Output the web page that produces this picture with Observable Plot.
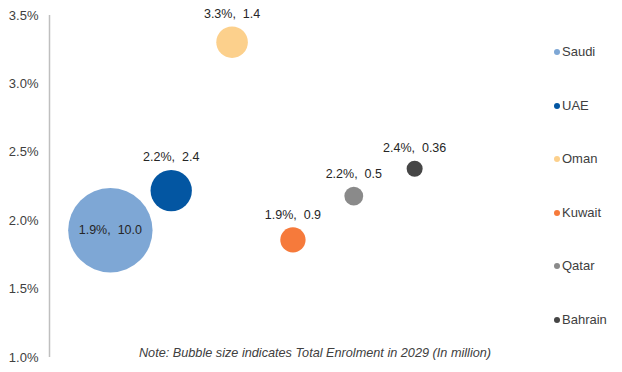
<!DOCTYPE html>
<html>
<head>
<meta charset="utf-8">
<script src="https://cdn.jsdelivr.net/npm/d3@7"></script>
<script src="https://cdn.jsdelivr.net/npm/@observablehq/plot@0.6"></script>
<style>
  html, body { margin: 0; padding: 0; background: #fff; }
  #chart { position: relative; width: 622px; height: 372px; font-family: "Liberation Sans", Arial, sans-serif; }
  #chart svg { position: absolute; left: 0; top: 0; }
  .legend { position: absolute; left: 554px; top: 0; }
  .legend .row { position: absolute; left: 0; height: 14px; line-height: 14px; white-space: nowrap; font-size: 13px; color: #404040; }
  .legend .sw { display: inline-block; width: 6px; height: 6px; border-radius: 50%; margin-right: 2px; vertical-align: 1px; }
  .note { position: absolute; top: 346px; left: 0; width: 630px; text-align: center; font-size: 12.7px; font-style: italic; color: #404040; white-space: nowrap; }
</style>
</head>
<body>
<div id="chart"></div>
<script>
// ---- data ----
const countries = ["Saudi", "UAE", "Oman", "Kuwait", "Qatar", "Bahrain"];
const growth = [1.93, 2.22, 3.305, 1.86, 2.18, 2.38];          // CAGR, %
const enrolment = [10.0, 2.4, 1.4, 0.9, 0.5, 0.36];            // Total enrolment 2029, million
const enrolmentLabels = ["10.0", "2.4", "1.4", "0.9", "0.5", "0.36"];
const colors = ["#7ea7d5", "#0356a2", "#fcd08c", "#f67a3b", "#8a8a8a", "#464646"];
const yTicks = [1.0, 1.5, 2.0, 2.5, 3.0, 3.5];
const noteText = "Note: Bubble size indicates Total Enrolment in 2029 (In million)";

const data = countries.map((c, i) => ({
  country: c, idx: i + 1, growth: growth[i], size: enrolment[i],
  label: `${growth[i].toFixed(1)}%,\u00a0 ${enrolmentLabels[i]}`
}));

const rMax = 42.2;
const rScale = d3.scaleSqrt().domain([0, 10]).range([0, rMax]);

const labelMarks = data.map((d, i) =>
  Plot.text([d], {
    x: "idx", y: "growth", text: "label",
    dy: i === 0 ? 0 : -(rScale(d.size) + 12.5),
    fontSize: 12.5, fill: "#262626", lineAnchor: "middle"
  })
);

const plot = Plot.plot({
  width: 622,
  height: 372,
  marginTop: 15,
  marginBottom: 15,
  marginLeft: 49,
  marginRight: 147,
  style: { fontFamily: '"Liberation Sans", Arial, sans-serif', fontSize: "13px", color: "#404040", background: "transparent" },
  x: { domain: [0, 7], axis: null },
  y: { domain: [1.0, 3.5], ticks: yTicks, tickFormat: d => d.toFixed(1) + "%" },
  r: { type: "sqrt", domain: [0, 10], range: [0, rMax] },
  color: { domain: countries, range: colors },
  marks: [
    Plot.ruleX([0], { stroke: "#bfbfbf", strokeWidth: 1.5 }),
    Plot.axisY({ ticks: yTicks, tickFormat: d => d.toFixed(1) + "%", tickSize: 0, tickPadding: 11, fontSize: 13, fill: "#404040", label: null }),
    Plot.dot(data, { x: "idx", y: "growth", r: "size", fill: "country", stroke: "none" }),
    ...labelMarks
  ]
});

const chart = document.getElementById("chart");
chart.appendChild(plot);

// legend
const legend = document.createElement("div");
legend.className = "legend";
const legendTop = 52, legendStep = 53.6;
countries.forEach((c, i) => {
  const row = document.createElement("div");
  row.className = "row";
  row.style.top = (legendTop + i * legendStep - 7) + "px";
  const sw = document.createElement("span");
  sw.className = "sw";
  sw.style.background = colors[i];
  row.appendChild(sw);
  row.appendChild(document.createTextNode(c));
  legend.appendChild(row);
});
chart.appendChild(legend);

// note
const note = document.createElement("div");
note.className = "note";
note.textContent = noteText;
chart.appendChild(note);
</script>
</body>
</html>
